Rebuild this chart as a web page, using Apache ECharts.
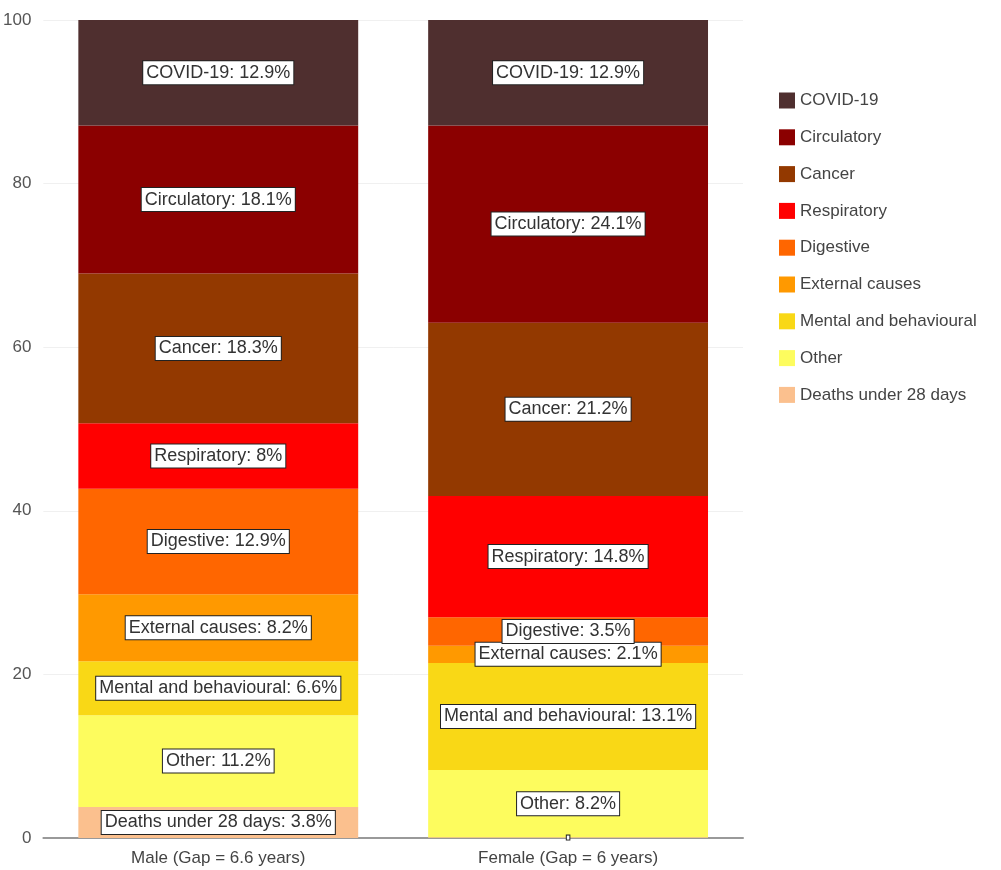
<!DOCTYPE html>
<html>
<head>
<meta charset="utf-8">
<script src="https://cdn.jsdelivr.net/npm/echarts@6/dist/echarts.min.js"></script>
<style>
  html, body { margin: 0; padding: 0; background: #fff; }
  #chart { width: 1001px; height: 870px; }
</style>
</head>
<body>
<div id="chart"></div>
<script>
var categories = ['Male (Gap = 6.6 years)', 'Female (Gap = 6 years)'];
// bottom-to-top stacking order
var cause_names = ['Deaths under 28 days', 'Other', 'Mental and behavioural', 'External causes',
    'Digestive', 'Respiratory', 'Cancer', 'Circulatory', 'COVID-19'];
var male_values = [3.8, 11.2, 6.6, 8.2, 12.9, 8, 18.3, 18.1, 12.9];
var female_values = [0.1, 8.2, 13.1, 2.1, 3.5, 14.8, 21.2, 24.1, 12.9];
var color_list = ['#fbc08e', '#fdfc5e', '#f9d816', '#ff9900', '#ff6600', '#ff0000', '#933900', '#8b0000', '#4f2f2f'];
var y_ticks = [0, 20, 40, 60, 80, 100];

var font_label = "'Liberation Sans Narrow', 'Arial Narrow', 'Liberation Sans', sans-serif";

var chart = echarts.init(document.getElementById('chart'));

var series_list = [];
for (var i = 0; i < cause_names.length; i++) {
    var vals = [male_values[i], female_values[i]];
    var dataItems = [];
    for (var j = 0; j < vals.length; j++) {
        var item = { value: vals[j] };
        if (vals[j] < 1) {
            // tiny marker where the label has nothing to show
            item.label = { formatter: ' ', fontSize: 2, padding: 1 };
        }
        dataItems.push(item);
    }
    series_list.push({
        name: cause_names[i],
        type: 'bar',
        stack: 'total',
        barWidth: '80%',
        itemStyle: { color: color_list[i] },
        label: {
            show: true,
            position: 'inside',
            formatter: function (p) { return p.seriesName + ': ' + p.value + '%'; },
            color: '#333',
            fontFamily: font_label,
            fontSize: 18,
            backgroundColor: '#fff',
            borderColor: '#222',
            borderWidth: 1,
            padding: [3, 3, 2, 3]
        },
        emphasis: { disabled: true },
        data: dataItems
    });
}

chart.setOption({
    animation: false,
    color: color_list,
    grid: { left: 40, right: 258, top: 20, bottom: 32 },
    legend: {
        orient: 'vertical',
        left: 774,
        top: 87,
        icon: 'rect',
        itemWidth: 16,
        itemHeight: 16,
        itemGap: 19.8,
        data: cause_names.slice().reverse(),
        textStyle: { fontFamily: 'Liberation Sans, Arial, sans-serif', fontSize: 17, color: '#444' }
    },
    xAxis: {
        type: 'category',
        data: categories,
        axisTick: { show: false },
        axisLine: { lineStyle: { color: '#999', width: 2 } },
        axisLabel: { color: '#444', fontFamily: font_label, fontSize: 17, margin: 12 }
    },
    yAxis: {
        type: 'value',
        min: y_ticks[0],
        max: y_ticks[y_ticks.length - 1],
        interval: 20,
        axisLine: { show: false },
        axisTick: { show: false },
        axisLabel: { color: '#555', fontFamily: 'Liberation Sans, Arial, sans-serif', fontSize: 17, margin: 12 },
        splitLine: { lineStyle: { color: '#f0f0f0' } }
    },
    series: series_list
});
</script>
</body>
</html>
